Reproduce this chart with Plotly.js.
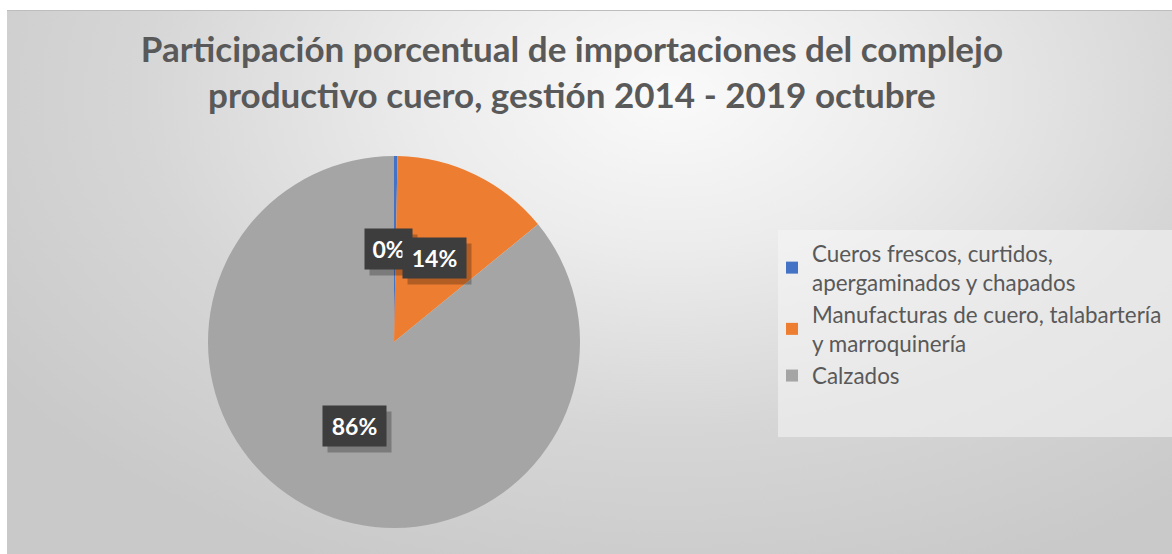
<!DOCTYPE html>
<html>
<head>
<meta charset="utf-8">
<script src="https://cdn.plot.ly/plotly-3.0.1.min.js"></script>
<style>
  html, body { margin: 0; padding: 0; background: #ffffff; width: 1172px; height: 554px; overflow: hidden; }
  #bg { position: absolute; left: 7px; top: 10px; width: 1165px; height: 544px;
        border-top: 1px solid #bdbdbd;
        background: radial-gradient(ellipse 70% 95% at 57% 15%, #fafafa 0%, #ececec 30%, #d6d6d6 65%, #c9c9c9 100%); }
  #chart { position: absolute; left: 0; top: 0; width: 1172px; height: 554px; }
</style>
</head>
<body>
<div id="bg"></div>
<div id="chart"></div>
<script>
// ---- data ----
const categories = [
  "Cueros frescos, curtidos,<br>apergaminados y chapados",
  "Manufacturas de cuero, talabartería<br>y marroquinería",
  "Calzados"
];
const shares = [0.3, 13.8, 85.9];
const colors = ["#4472C4", "#ED7D31", "#A5A5A5"];
const chartTitle = "Participación porcentual de importaciones del complejo<br>productivo cuero, gestión 2014 - 2019 octubre";

// ---- layout geometry ----
const W = 1172, H = 554;
const pieDomain = { x: [0.17747, 0.49488], y: [0.04693, 0.71841] };
const labelFrac = 0.5;
const labelXShift = [-6, 0, 0];

const total = shares.reduce((a, b) => a + b, 0);
const cx = (pieDomain.x[0] + pieDomain.x[1]) / 2;
const cy = (pieDomain.y[0] + pieDomain.y[1]) / 2;
const rPx = Math.min((pieDomain.x[1] - pieDomain.x[0]) * W, (pieDomain.y[1] - pieDomain.y[0]) * H) / 2;

const annotations = [];
let cum = 0;
shares.forEach((v, i) => {
  const mid = (cum + v / 2) / total * 2 * Math.PI;
  cum += v;
  const x = cx + labelFrac * rPx * Math.sin(mid) / W;
  const y = cy + labelFrac * rPx * Math.cos(mid) / H;
  const txt = Math.round(v / total * 100) + "%";
  const width = 3 + 16 * txt.length;
  const common = { x: x, y: y, xref: "paper", yref: "paper", showarrow: false,
                   xanchor: "center", yanchor: "middle", text: txt,
                   borderpad: 6, width: width, height: 28, valign: "middle" };
  annotations.push(Object.assign({}, common, {
    xshift: labelXShift[i] + 5, yshift: -6,
    font: { family: "Lato, sans-serif", size: 23, color: "rgba(0,0,0,0)", weight: "bold" },
    bgcolor: "rgba(0,0,0,0.25)"
  }));
  annotations.push(Object.assign({}, common, {
    xshift: labelXShift[i],
    font: { family: "Lato, sans-serif", size: 23, color: "#ffffff", weight: "bold" },
    bgcolor: "#3d3d3d"
  }));
});

const data = [{
  type: "pie",
  labels: categories,
  values: shares,
  sort: false,
  direction: "clockwise",
  rotation: 0,
  marker: { colors: colors, line: { width: 0 } },
  textinfo: "none",
  hoverinfo: "label+percent",
  domain: pieDomain
}];

const layout = {
  width: W, height: H,
  margin: { l: 0, r: 0, t: 0, b: 0 },
  paper_bgcolor: "rgba(0,0,0,0)",
  plot_bgcolor: "rgba(0,0,0,0)",
  title: {
    text: chartTitle,
    x: 0.488, xanchor: "center",
    y: 1 - 62 / H, yanchor: "top", yref: "container",
    font: { family: "Lato, sans-serif", size: 35, color: "#595959", weight: "bold" }
  },
  showlegend: true,
  legend: {
    x: 772 / W, xanchor: "left",
    y: 1 - 232 / H, yanchor: "top",
    bgcolor: "rgba(0,0,0,0)",
    font: { family: "Lato, sans-serif", size: 22.4, color: "#595959" },
    traceorder: "normal"
  },
  shapes: [{
    type: "rect", xref: "paper", yref: "paper", layer: "below",
    x0: 778 / W, x1: 1, y0: 1 - 437 / H, y1: 1 - 230 / H,
    fillcolor: "rgba(245,245,245,0.55)", line: { width: 0 }
  }],
  annotations: annotations
};

Plotly.newPlot("chart", data, layout, { displayModeBar: false, staticPlot: true });
</script>
</body>
</html>
